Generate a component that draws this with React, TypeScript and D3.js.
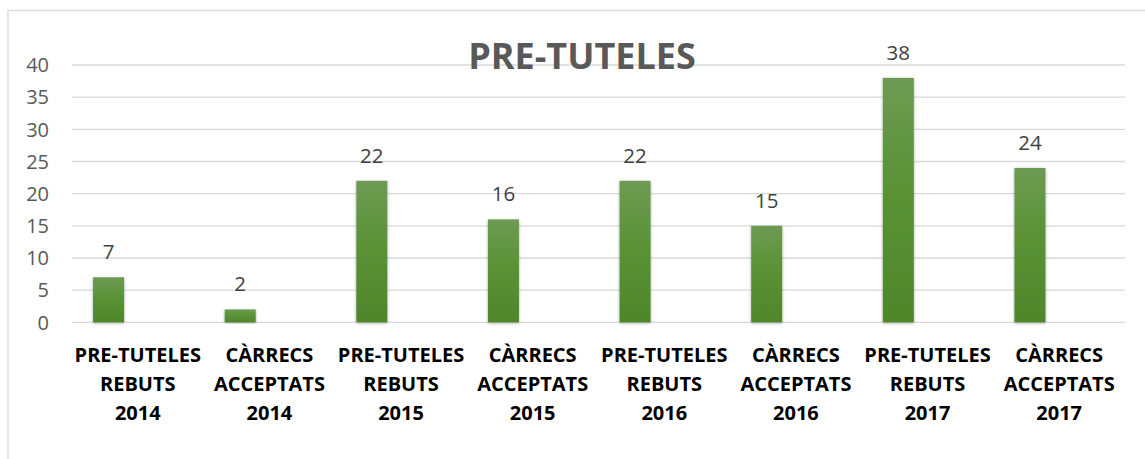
import * as d3 from 'd3';

// chart data
const categories = [
  ['PRE-TUTELES', 'REBUTS', '2014'],
  ['CÀRRECS', 'ACCEPTATS', '2014'],
  ['PRE-TUTELES', 'REBUTS', '2015'],
  ['CÀRRECS', 'ACCEPTATS', '2015'],
  ['PRE-TUTELES', 'REBUTS', '2016'],
  ['CÀRRECS', 'ACCEPTATS', '2016'],
  ['PRE-TUTELES', 'REBUTS', '2017'],
  ['CÀRRECS', 'ACCEPTATS', '2017'],
];
const values = [7, 2, 22, 16, 22, 15, 38, 24];
const yTicks = [0, 5, 10, 15, 20, 25, 30, 35, 40];
const title = 'PRE-TUTELES';

const width = 1145;
const height = 459;
const left = 72;
const right = 1125;
const top = 65;
const bottom = 322.3;
const font = "'Open Sans', sans-serif";

const App = () => {
  const keys = categories.map((c, i) => String(i));
  const x0 = d3.scaleBand().domain(keys).range([left, right]);
  // two series slots per category, second one is empty
  const x1 = d3
    .scaleBand()
    .domain(['value', 'empty'])
    .range([0, x0.bandwidth()])
    .paddingInner(0.47)
    .paddingOuter(0.36);
  const y = d3.scaleLinear().domain([0, 40]).range([bottom, top]);

  return (
    <div style={{ position: 'fixed', left: 0, top: 0 }}>
      <svg width={width} height={height} style={{ display: 'block' }}>
        <defs>
          <linearGradient id='barGrad' x1='0' y1='0' x2='0' y2='1'>
            <stop offset='0%' stopColor='#6d9b53' />
            <stop offset='45%' stopColor='#5b9236' />
            <stop offset='100%' stopColor='#4f862b' />
          </linearGradient>
          <filter id='shadow' x='-30%' y='-10%' width='160%' height='120%'>
            <feDropShadow dx='0' dy='1' stdDeviation='1.6' floodColor='#000' floodOpacity='0.35' />
          </filter>
        </defs>
        <rect x={0} y={0} width={width} height={height} fill='#fff' />
        <rect
          x={8}
          y={10.5}
          width={width + 20}
          height={height + 20}
          fill='none'
          stroke='#d9d9d9'
          strokeWidth={1.3}
        />

        {/* grid + y axis labels */}
        {yTicks.map((t) => (
          <g key={t}>
            <line
              x1={left}
              x2={right}
              y1={y(t)}
              y2={y(t)}
              stroke='#d9d9d9'
              strokeWidth={1.3}
            />
            <text
              x={49}
              y={y(t)}
              dy='0.36em'
              textAnchor='end'
              fontFamily={font}
              fontSize={20}
              fill='#595959'
            >
              {t}
            </text>
          </g>
        ))}

        <text
          x={582}
          y={69}
          textAnchor='middle'
          fontFamily={font}
          fontWeight='bold'
          fontSize={36}
          fill='#595959'
        >
          {title}
        </text>

        {/* bars */}
        {values.map((v, i) => {
          const bx = x0(keys[i]) + x1('value');
          return (
            <g key={i}>
              <rect
                x={bx}
                y={y(v)}
                width={x1.bandwidth()}
                height={y(0) - y(v)}
                fill='url(#barGrad)'
                filter='url(#shadow)'
              />
              <text
                x={bx + x1.bandwidth() / 2}
                y={y(v) - 18}
                textAnchor='middle'
                fontFamily={font}
                fontSize={20.5}
                fill='#404040'
              >
                {v}
              </text>
            </g>
          );
        })}

        {/* category labels */}
        {categories.map((lines, i) => (
          <text
            key={i}
            x={x0(keys[i]) + x0.bandwidth() / 2}
            textAnchor='middle'
            fontFamily={font}
            fontWeight='bold'
            fontSize={20}
            fill='#000'
          >
            {lines.map((l, j) => (
              <tspan key={j} x={x0(keys[i]) + x0.bandwidth() / 2} y={362 + j * 29}>
                {l}
              </tspan>
            ))}
          </text>
        ))}
      </svg>
    </div>
  );
};

export default App;
